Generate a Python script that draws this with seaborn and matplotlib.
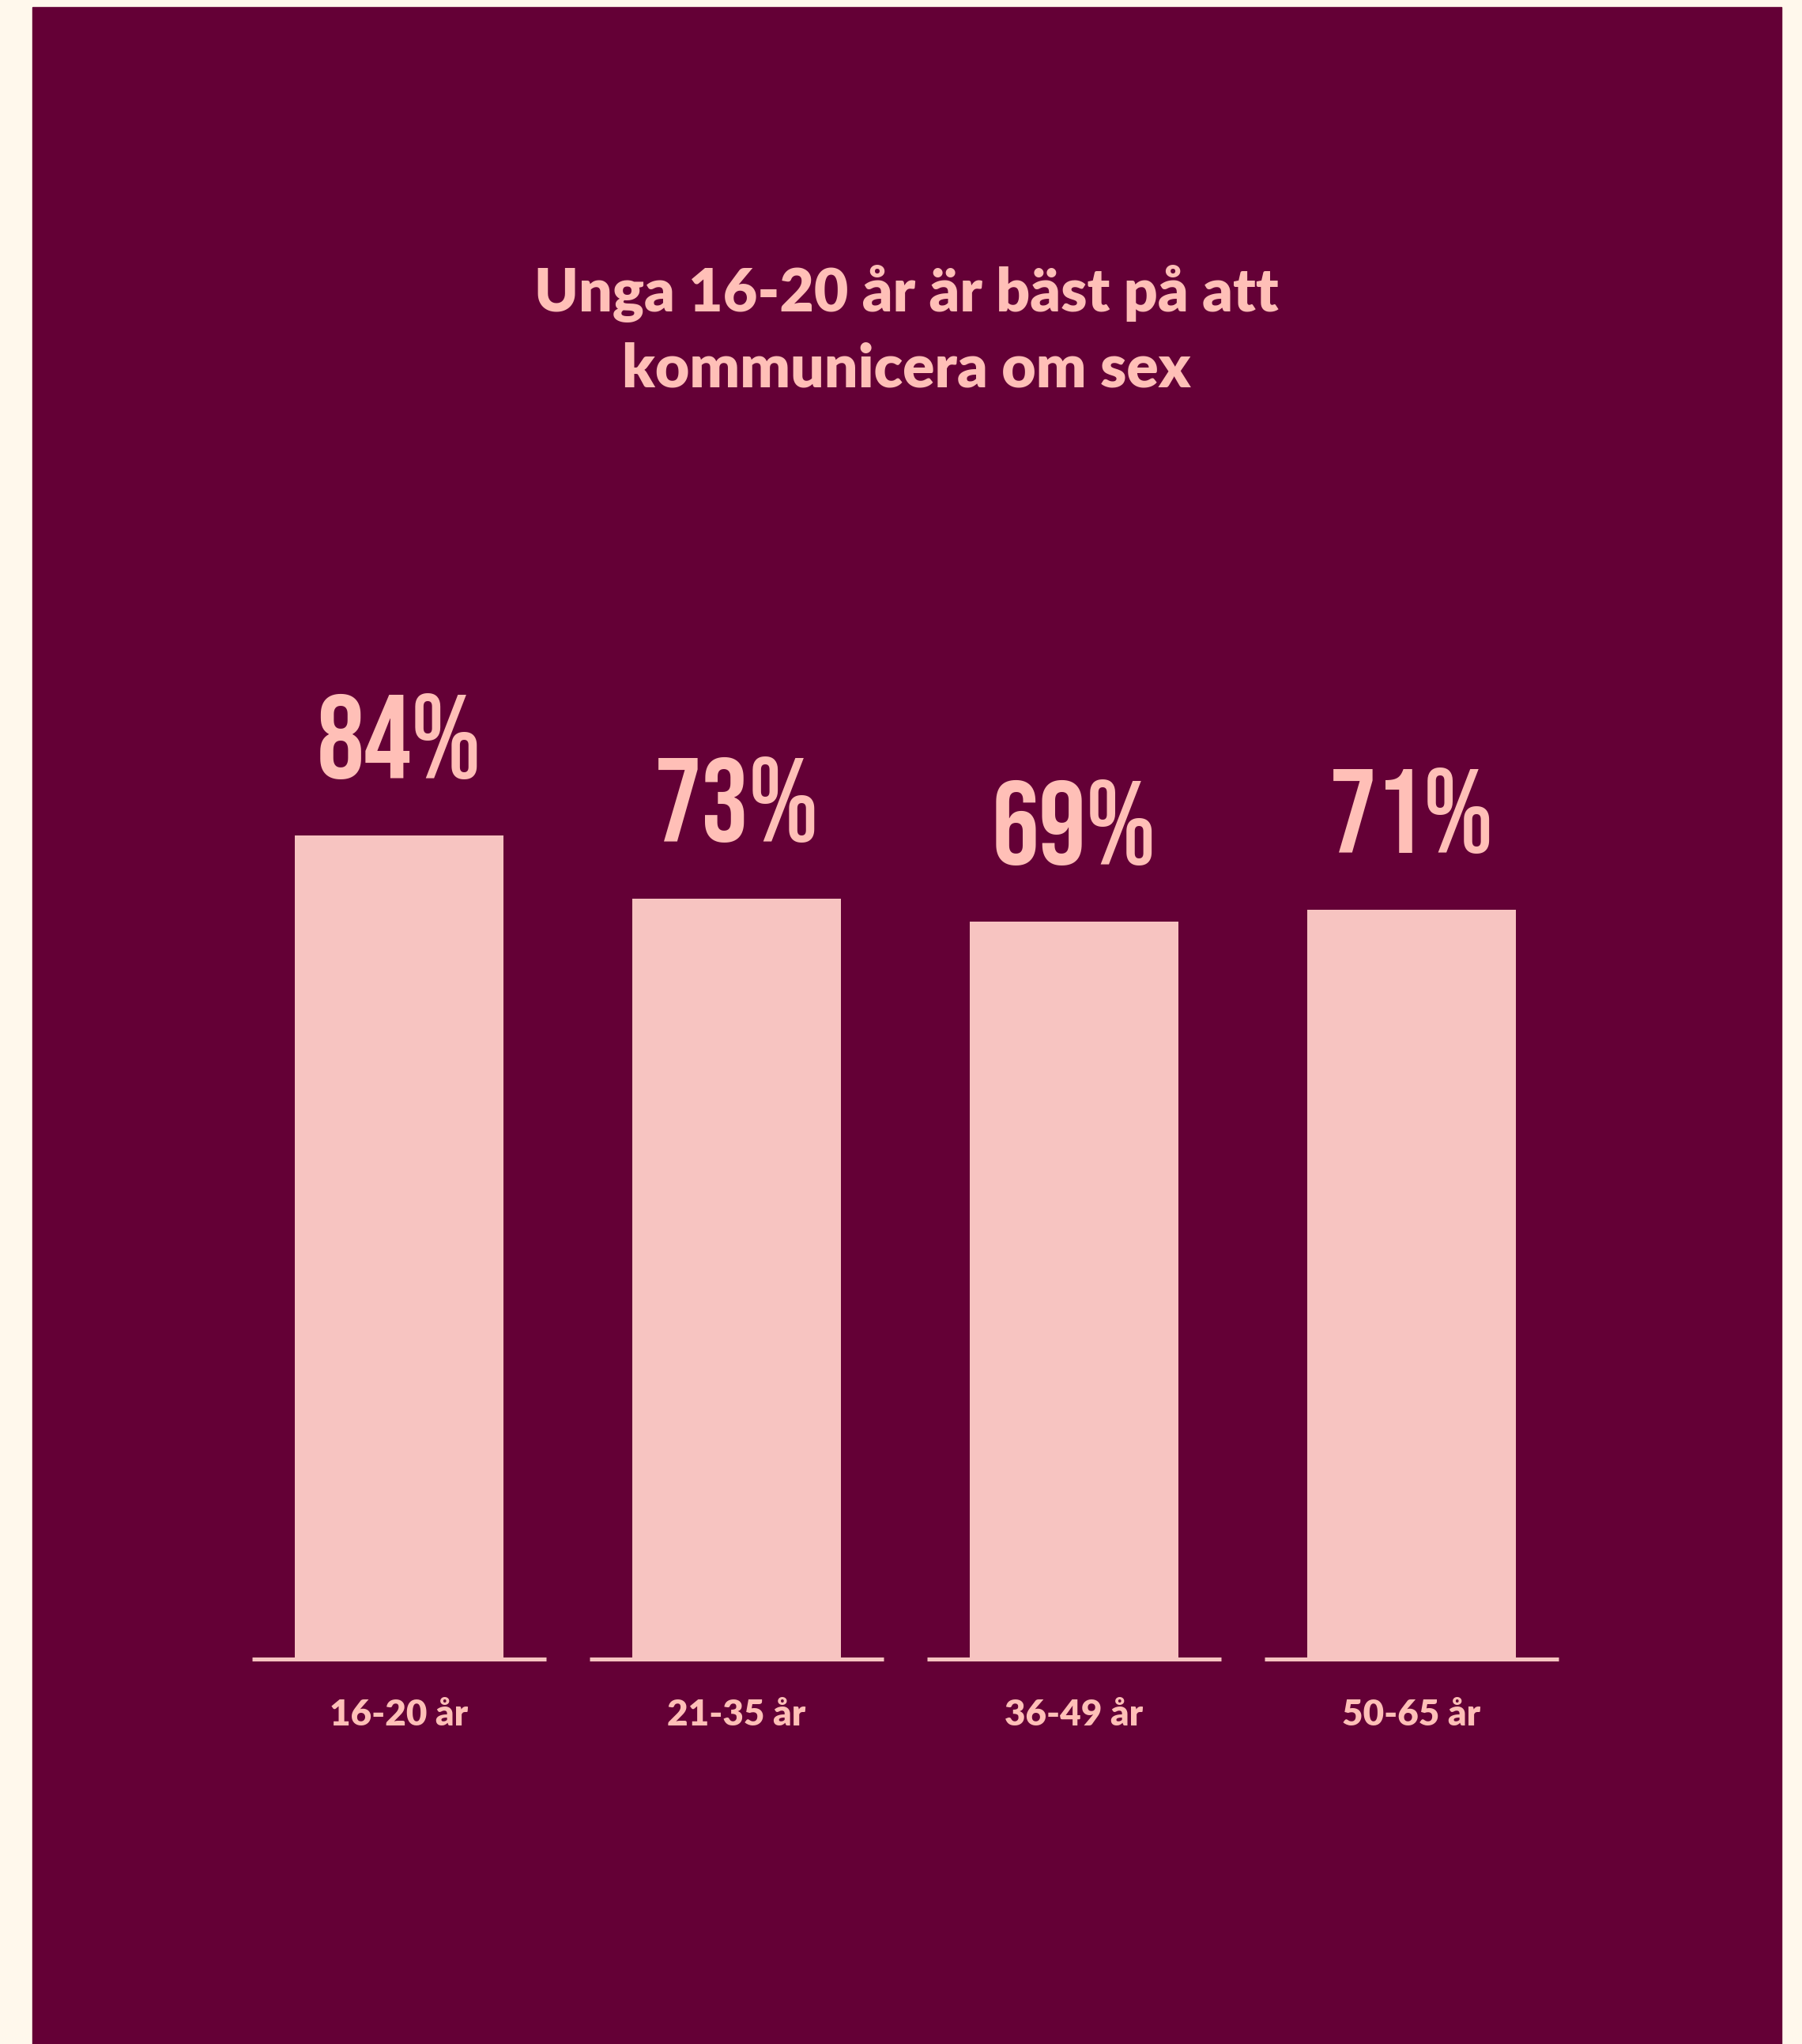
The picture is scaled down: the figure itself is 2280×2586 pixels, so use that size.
import pandas as pd
import seaborn as sns
from matplotlib import pyplot as plt
from matplotlib import font_manager
from matplotlib.patches import Rectangle

# data
age_groups = ["16-20 år", "21-35 år", "36-49 år", "50-65 år"]
shares = [84, 73, 69, 71]
value_labels = ["84%", "73%", "69%", "71%"]
title_lines = ["Unga 16-20 år är bäst på att", "kommunicera om sex"]

# the bars in the original do not start at zero
AXIS_FLOOR = -59.6

CREAM = "#FFF8EC"
DARK = "#640036"
BAR = "#F7C4C1"
TEXT = "#FFBFB7"

sns.set_theme(style="white")
available = {f.name for f in font_manager.fontManager.ttflist}
sans = next((f for f in ["Lato", "Open Sans", "Noto Sans"] if f in available), "DejaVu Sans")
narrow = next((f for f in ["Bebas Neue", "Oswald", "Roboto Condensed", "Liberation Sans Narrow",
                           "DejaVu Sans Condensed", "Open Sans Condensed"] if f in available), sans)
plt.rcParams["font.family"] = [sans, "DejaVu Sans"]

W, H = 2280, 2586
fig = plt.figure(figsize=(W / 100, H / 100), dpi=100, facecolor=CREAM)
fig.patches.append(Rectangle((41 / W, 0), (2254 - 41) / W, (H - 9) / H,
                             transform=fig.transFigure, color=DARK, zorder=-10))

ax = fig.add_axes([291.5 / W, (H - 2098.7) / H, 1708 / W, 1157.8 / H])
ax.set_zorder(1)
ax.set_facecolor("none")

df = pd.DataFrame({"group": age_groups, "share": shares})
sns.barplot(data=df, x="group", y="share", color=BAR, saturation=1, width=0.62,
            linewidth=0, ax=ax)

# grow each bar down to the floor of the axis
for bar in ax.patches:
    top = bar.get_y() + bar.get_height()
    bar.set_y(AXIS_FLOOR)
    bar.set_height(top - AXIS_FLOOR)

# short base line under each bar
for i in range(len(age_groups)):
    ax.hlines(AXIS_FLOOR, i - 0.436, i + 0.436, color=BAR, linewidth=3.6, clip_on=False)

for i, (val, lab) in enumerate(zip(shares, value_labels)):
    ax.annotate(lab, (i, val), xytext=(0, 52), textcoords="offset points",
                ha="center", va="baseline", fontsize=108, fontweight="bold",
                color=TEXT, family=[narrow, "DejaVu Sans"], annotation_clip=False)

ax.set_xlim(-0.5, 3.5)
ax.set_ylim(AXIS_FLOOR, 100)
ax.set_xlabel("")
ax.set_ylabel("")
ax.set_yticks([])
ax.tick_params(axis="x", length=0, pad=36)
ax.set_xticks(range(len(age_groups)))
ax.set_xticklabels(age_groups, fontsize=33, fontweight="heavy", color=TEXT)
sns.despine(ax=ax, left=True, bottom=True)

fig.text(1147 / W, 1 - 394 / H, title_lines[0], ha="center", va="baseline",
         fontsize=54, fontweight="heavy", color=TEXT)
fig.text(1147 / W, 1 - 490 / H, title_lines[1], ha="center", va="baseline",
         fontsize=54, fontweight="heavy", color=TEXT)

fig.savefig("out.png", dpi=100, facecolor=CREAM)
